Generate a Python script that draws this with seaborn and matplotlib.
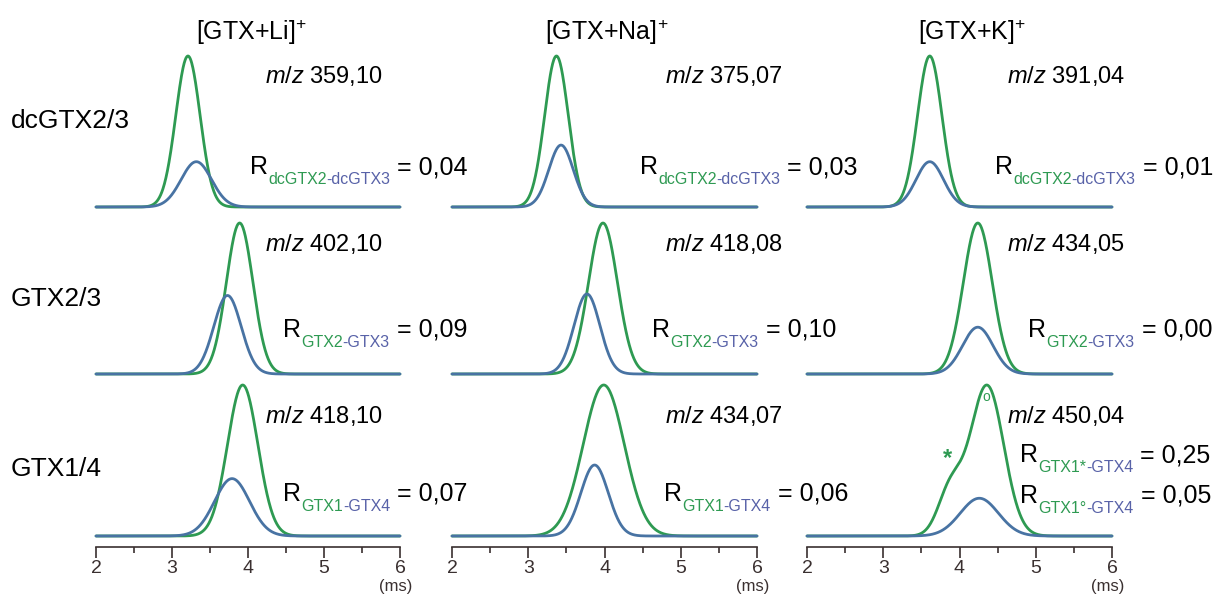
import numpy as np
import pandas as pd
import matplotlib
matplotlib.use("Agg")
import matplotlib.pyplot as plt
from matplotlib.ticker import MultipleLocator
import seaborn as sns

sns.set_theme(style="white")
plt.rcParams["font.family"] = ["Liberation Sans", "DejaVu Sans"]
plt.rcParams["mathtext.fontset"] = "custom"
plt.rcParams["mathtext.rm"] = "Liberation Sans"
plt.rcParams["mathtext.it"] = "Liberation Sans:italic"

# ---- data -----------------------------------------------------------------
adducts = ["[GTX+Li]$^{+}$", "[GTX+Na]$^{+}$", "[GTX+K]$^{+}$"]
compounds = ["dcGTX2/3", "GTX2/3", "GTX1/4"]
mz_labels = [["359,10", "375,07", "391,04"],
             ["402,10", "418,08", "434,05"],
             ["418,10", "434,07", "450,04"]]
pair_first = ["dcGTX2", "GTX2", "GTX1"]
pair_second = ["-dcGTX3", "-GTX3", "-GTX4"]
resolution = [["0,04", "0,03", "0,01"],
              ["0,09", "0,10", "0,00"],
              ["0,07", "0,06", None]]
# GTX1/4 with K+: two GTX1 features (* shoulder, ° main)
k_gtx1_tags = ["*", "°"]
k_gtx1_resolution = ["0,25", "0,05"]

# drift-time peaks (ms); green = first isomer, blue = second isomer
green_center = [[3.21, 3.37, 3.61], [3.89, 3.98, 4.24], [3.93, 3.99, 4.36]]
green_sigma = [[0.16, 0.155, 0.16], [0.175, 0.19, 0.19], [0.20, 0.27, 0.22]]
blue_center = [[3.32, 3.43, 3.61], [3.73, 3.77, 4.24], [3.79, 3.87, 4.26]]
blue_sigma = [[0.20, 0.16, 0.18], [0.18, 0.17, 0.20], [0.23, 0.18, 0.25]]
blue_height = [[0.30, 0.41, 0.30], [0.52, 0.53, 0.31], [0.38, 0.47, 0.25]]
shoulder_center = 3.88
shoulder_sigma = 0.16
shoulder_height = 0.30

GREEN = "#2e9a52"
BLUE = "#4873a3"
TXT_BLUE = "#5862a8"
TICK = "#3a3030"

W, H = 1215, 595
fig = plt.figure(figsize=(W / 100, H / 100), dpi=100)

col_x = [(96, 400), (452, 757), (807, 1112)]
row_base = [207, 374, 536]
peak_px = 151
below_px = 11

t = np.linspace(2, 6, 801)


def gauss(x, c, s, h=1.0):
    return h * np.exp(-0.5 * ((x - c) / s) ** 2)


for r in range(3):
    for c in range(3):
        x0, x1 = col_x[c]
        bottom = row_base[r] + below_px
        ax = fig.add_axes([x0 / W, 1 - bottom / H, (x1 - x0) / W,
                           (peak_px + below_px) / H])
        g = gauss(t, green_center[r][c], green_sigma[r][c])
        if r == 2 and c == 2:
            g = g + gauss(t, shoulder_center, shoulder_sigma, shoulder_height)
        g = g / g.max()
        b = gauss(t, blue_center[r][c], blue_sigma[r][c], blue_height[r][c])
        df = pd.DataFrame({"t": t, "green": g, "blue": b})
        sns.lineplot(data=df, x="t", y="green", ax=ax, color=GREEN,
                     lw=2.0, clip_on=False)
        sns.lineplot(data=df, x="t", y="blue", ax=ax, color=BLUE,
                     lw=2.0, clip_on=False)
        ax.set_xlim(2, 6)
        ax.set_ylim(-below_px / peak_px, 1)
        ax.set_xlabel("")
        ax.set_ylabel("")
        ax.set_yticks([])
        for side in ["top", "right", "left"]:
            ax.spines[side].set_visible(False)
        if r < 2:
            ax.spines["bottom"].set_visible(False)
            ax.set_xticks([])
        else:
            ax.spines["bottom"].set_color(TICK)
            ax.spines["bottom"].set_linewidth(1.2)
            ax.xaxis.set_major_locator(MultipleLocator(1))
            ax.xaxis.set_minor_locator(MultipleLocator(0.5))
            ax.tick_params(axis="x", which="major", direction="out",
                           length=8, width=1.2, color=TICK, labelsize=14,
                           labelcolor=TICK, pad=1.5, bottom=True)
            ax.tick_params(axis="x", which="minor", direction="out",
                           length=4.5, width=1.2, color=TICK, bottom=True)
            ax.set_xticks([2, 3, 4, 5, 6])
            ax.set_xticklabels(["2", "3", "4", "5", "6"])
        if r == 2 and c == 2:
            ax.text(3.84, 0.51, k_gtx1_tags[0], color=GREEN, fontsize=17,
                    ha="center", va="center", fontweight="bold")
            ax.text(4.35, 0.92, "o", color=GREEN, fontsize=10,
                    ha="center", va="center")

renderer = fig.canvas.get_renderer()


def px_text(x, y, s, **kw):
    return fig.text(x / W, 1 - y / H, s, **kw)


def rich(x, y, parts):
    """Draw text pieces one after another; parts = (text, color, size, dy)."""
    cur = x
    for s, color, size, dy in parts:
        tx = px_text(cur, y + dy, s, color=color, fontsize=size,
                     ha="left", va="baseline")
        bb = tx.get_window_extent(renderer)
        cur = bb.x1


# column headers
header_x = [251, 607, 972]
for c in range(3):
    px_text(header_x[c], 32, adducts[c], fontsize=18, ha="center",
            va="center", color="black")

# row labels
row_label_y = [121, 299, 469]
for r in range(3):
    px_text(11, row_label_y[r], compounds[r], fontsize=19, ha="left",
            va="center", color="black")

# m/z labels (right edge)
mz_right = [383, 783, 1125]
mz_y = [76, 244, 416]
for r in range(3):
    for c in range(3):
        px_text(mz_right[c], mz_y[r], r"$\it{m/z}$ " + mz_labels[r][c],
                fontsize=17, ha="right", va="center", color="black")

# resolution labels
r_x = [[250, 640, 995], [283, 652, 1028], [283, 664, None]]
r_base = [174, 337, 501]
sub_dy = 10
for r in range(3):
    for c in range(3):
        if resolution[r][c] is None:
            continue
        rich(r_x[r][c], r_base[r], [
            ("R", "black", 18, 0),
            (pair_first[r], GREEN, 11.5, sub_dy),
            (pair_second[r], TXT_BLUE, 11.5, sub_dy),
            (" = " + resolution[r][c], "black", 18, 0),
        ])

k_base = [462, 503]
for i in range(2):
    rich(1020, k_base[i], [
        ("R", "black", 18, 0),
        (pair_first[2] + k_gtx1_tags[i], GREEN, 11.5, sub_dy),
        (pair_second[2], TXT_BLUE, 11.5, sub_dy),
        (" = " + k_gtx1_resolution[i], "black", 18, 0),
    ])

# unit label under the last tick of each axis
for c in range(3):
    px_text(col_x[c][1] - 4, 594, "(ms)", fontsize=12, ha="center",
            va="bottom", color=TICK)

fig.savefig("out.png", dpi=100)
